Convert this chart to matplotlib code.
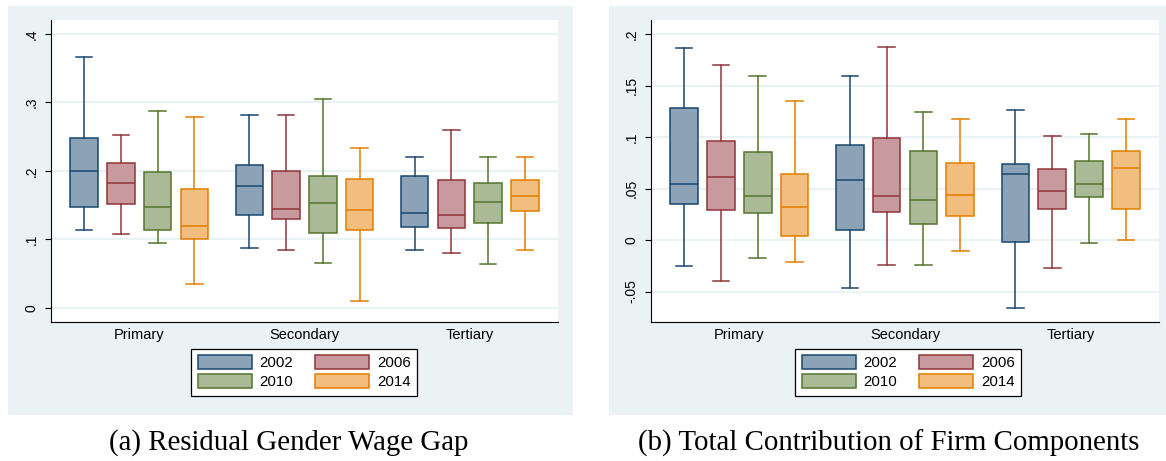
import matplotlib.pyplot as plt
from matplotlib.patches import Rectangle, Patch

categories = ['Primary', 'Secondary', 'Tertiary']
years = ['2002', '2006', '2010', '2014']

# (a) residual gender wage gap, rows = category, columns = year
gap_hi = [[.366, .252, .287, .279], [.282, .282, .305, .234], [.221, .260, .221, .220]]
gap_q3 = [[.248, .211, .198, .173], [.209, .200, .192, .188], [.192, .187, .182, .187]]
gap_med = [[.200, .182, .147, .120], [.178, .144, .153, .143], [.138, .136, .154, .163]]
gap_q1 = [[.147, .152, .113, .101], [.135, .129, .109, .113], [.118, .117, .124, .141]]
gap_lo = [[.114, .107, .095, .035], [.087, .084, .066, .010], [.085, .080, .064, .085]]

# (b) total contribution of firm components
firm_hi = [[.186, .170, .159, .135], [.159, .187, .124, .117], [.126, .101, .103, .117]]
firm_q3 = [[.128, .096, .085, .064], [.092, .099, .086, .075], [.074, .069, .077, .086]]
firm_med = [[.054, .061, .043, .032], [.058, .043, .039, .044], [.064, .048, .054, .070]]
firm_q1 = [[.035, .029, .026, .004], [.010, .027, .016, .023], [-.002, .030, .042, .030]]
firm_lo = [[-.025, -.040, -.017, -.021], [-.047, -.024, -.024, -.011], [-.066, -.027, -.003, .000]]

edge_colors = ['#1a476f', '#90353b', '#55752f', '#e37e00']
fill_colors = ['#8ca3b7', '#c8999d', '#aaba97', '#f1be80']
bg = '#eaf2f3'

W, H = 1166, 461
fig = plt.figure(figsize=(W / 100, H / 100), dpi=100)


def fig_rect(x0, y0, x1, y1):
    # pixel box (top-left origin) -> figure fraction [l, b, w, h]
    return [x0 / W, 1 - y1 / H, (x1 - x0) / W, (y1 - y0) / H]


for x0, x1 in [(8, 573), (609, 1166)]:
    r = fig_rect(x0, 6, x1, 415)
    fig.add_artist(Rectangle((r[0], r[1]), r[2], r[3], transform=fig.transFigure,
                             facecolor=bg, edgecolor='none', zorder=0))


def draw_panel(rect, hi, q3, med, q1, lo, ylim, yticks, ylabels, legend_x):
    ax = fig.add_axes(fig_rect(*rect))
    ax.set_facecolor('white')
    for i in range(len(categories)):
        for j in range(len(years)):
            st = [dict(med=med[i][j], q1=q1[i][j], q3=q3[i][j],
                       whislo=lo[i][j], whishi=hi[i][j], fliers=[])]
            ax.bxp(st, positions=[i * 4.5 + j - 1.5], widths=0.75, capwidths=0.45,
                   patch_artist=True, showfliers=False,
                   boxprops=dict(facecolor=fill_colors[j], edgecolor=edge_colors[j], linewidth=1.1),
                   medianprops=dict(color=edge_colors[j], linewidth=1.1),
                   whiskerprops=dict(color=edge_colors[j], linewidth=1.1),
                   capprops=dict(color=edge_colors[j], linewidth=1.1))
    ax.set_xlim(-2.4, 11.4)
    ax.set_ylim(*ylim)
    ax.set_yticks(yticks)
    ax.set_yticklabels(ylabels, rotation=90, va='center', fontsize=10,
                       family='Liberation Sans')
    ax.set_xticks([i * 4.5 for i in range(len(categories))])
    ax.set_xticklabels(categories, fontsize=10.5, family='Liberation Sans')
    ax.tick_params(axis='x', length=0, pad=4)
    ax.tick_params(axis='y', length=4, width=0.8, pad=5)
    ax.grid(axis='y', color=bg, linewidth=1.5)
    ax.set_axisbelow(True)
    for s in ['top', 'right']:
        ax.spines[s].set_visible(False)
    # row order 2002 2006 / 2010 2014 with ncol=2 (column-major fill)
    order = [0, 2, 1, 3]
    handles = [Patch(facecolor=fill_colors[j], edgecolor=edge_colors[j], linewidth=1.1,
                     label=years[j]) for j in order]
    leg = fig.legend(handles=handles, ncol=2, loc='upper center',
                     bbox_to_anchor=(legend_x / W, 1 - 349 / H),
                     prop=dict(family='Liberation Sans', size=10.8),
                     handlelength=3.6, handleheight=1.0, columnspacing=1.4,
                     handletextpad=0.55, labelspacing=0.28, borderpad=0.42,
                     fancybox=False, framealpha=1, borderaxespad=0)
    leg.get_frame().set_edgecolor('black')
    leg.get_frame().set_linewidth(0.9)
    return ax


draw_panel((51, 20, 558, 322), gap_hi, gap_q3, gap_med, gap_q1, gap_lo,
           (-0.021, 0.4206), [0, .1, .2, .3, .4], ['0', '.1', '.2', '.3', '.4'], 304)
draw_panel((651, 20, 1159, 322), firm_hi, firm_q3, firm_med, firm_q1, firm_lo,
           (-0.0796, 0.2136), [-.05, 0, .05, .1, .15, .2],
           ['-.05', '0', '.05', '.1', '.15', '.2'], 908)

fig.text(289 / W, 1 - 443 / H, '(a) Residual Gender Wage Gap', ha='center', va='center',
         fontsize=20.8, family='Liberation Serif')
fig.text(889 / W, 1 - 443 / H, '(b) Total Contribution of Firm Components', ha='center',
         va='center', fontsize=20.8, family='Liberation Serif')

fig.savefig('out.png', dpi=100)
